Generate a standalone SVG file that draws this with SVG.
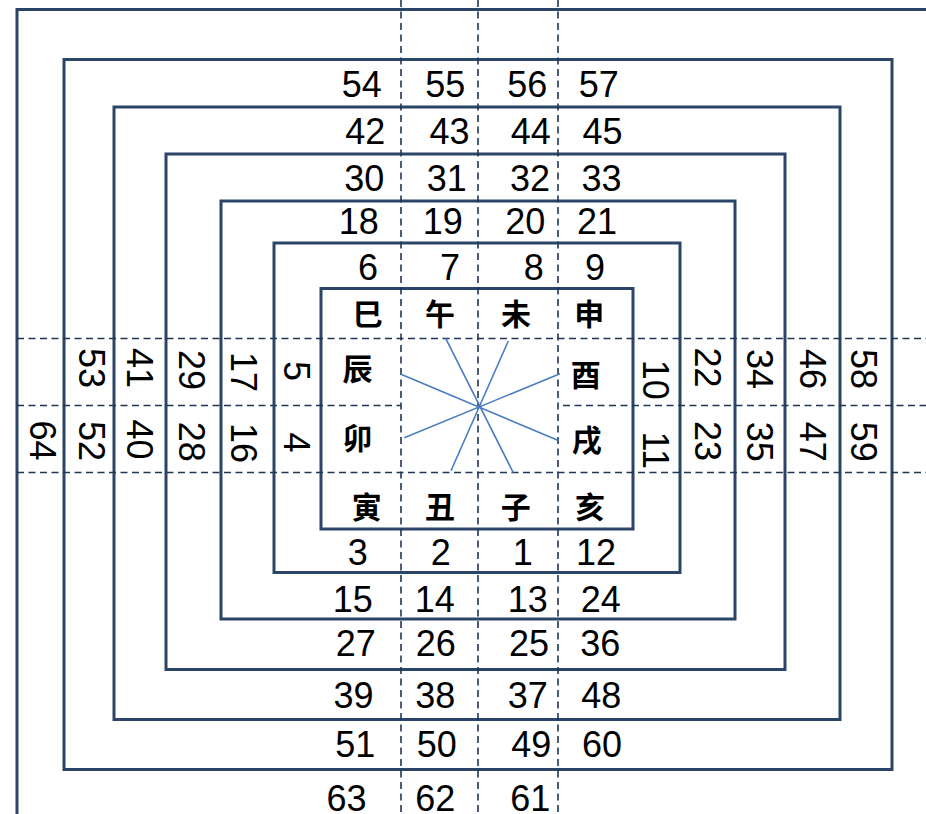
<svg xmlns="http://www.w3.org/2000/svg" width="926" height="814" viewBox="0 0 926 814">
<style>
.frame{fill:none;stroke:#2a4568;stroke-width:3}
.dash{fill:none;stroke:#1f3656;stroke-width:1.6;stroke-dasharray:7 4.5}
.star{stroke:#4a7cc0;stroke-width:1.6}
.n{font-family:"Liberation Sans",Arial,sans-serif;font-size:36px;fill:#000}
.v{text-anchor:middle}
.c{font-family:"Noto Sans CJK SC","Noto Sans CJK TC",sans-serif;font-size:30px;font-weight:700;fill:#000;text-anchor:middle}
</style>
<rect width="926" height="814" fill="#fff"/>
<g id="frames">
<path id="ring8" class="frame" d="M17,814 V9.5 H926"/>
<rect id="ring7" class="frame" x="64" y="59.5" width="828" height="710"/>
<rect id="ring6" class="frame" x="114" y="107" width="726" height="612.5"/>
<rect id="ring5" class="frame" x="166" y="154" width="619" height="515.5"/>
<rect id="ring4" class="frame" x="221" y="201" width="514" height="418"/>
<rect id="ring3" class="frame" x="274" y="243" width="406" height="329.5"/>
<rect id="ring2" class="frame" x="321" y="288.5" width="312" height="240.5"/>
</g>
<g id="connectors">
<line class="dash" x1="401" y1="0" x2="401" y2="814"/>
<line class="dash" x1="478" y1="0" x2="478" y2="814"/>
<line class="dash" x1="558" y1="0" x2="558" y2="814"/>
<line class="dash" x1="17" y1="338.5" x2="926" y2="338.5"/>
<line class="dash" x1="17" y1="405.5" x2="401" y2="405.5"/>
<line class="dash" x1="563" y1="405.5" x2="926" y2="405.5"/>
<line class="dash" x1="17" y1="472.5" x2="926" y2="472.5"/>
<g id="star">
<line class="star" x1="445.7" y1="338.3" x2="513.3" y2="472.7"/>
<line class="star" x1="508.3" y1="341" x2="451" y2="470.7"/>
<line class="star" x1="401" y1="374.3" x2="557.7" y2="440.3"/>
<line class="star" x1="560" y1="373.7" x2="404.3" y2="437.7"/>
</g>
</g>
<g id="branches">
<text class="c" x="367.7" y="324.5">巳</text>
<text class="c" x="440" y="324.5">午</text>
<text class="c" x="516" y="324.5">未</text>
<text class="c" x="589.3" y="324.5">申</text>
<text class="c" x="357.5" y="379.5">辰</text>
<text class="c" x="357.5" y="448.5">卯</text>
<text class="c" x="585.8" y="385.5">酉</text>
<text class="c" x="586.7" y="451">戌</text>
<text class="c" x="366.7" y="518">寅</text>
<text class="c" x="440" y="518">丑</text>
<text class="c" x="515.8" y="518">子</text>
<text class="c" x="590" y="518">亥</text>
</g>
<g id="top-numbers">
<text class="n" x="341.8" y="96.5">54</text>
<text class="n" x="425.2" y="96.5">55</text>
<text class="n" x="507.2" y="96.5">56</text>
<text class="n" x="578.7" y="96.5">57</text>
<text class="n" x="345.2" y="143.7">42</text>
<text class="n" x="429.5" y="143.7">43</text>
<text class="n" x="510.8" y="143.7">44</text>
<text class="n" x="582.5" y="143.7">45</text>
<text class="n" x="344.2" y="191">30</text>
<text class="n" x="426.8" y="191">31</text>
<text class="n" x="510" y="191">32</text>
<text class="n" x="581.5" y="191">33</text>
<text class="n" x="338.8" y="234">18</text>
<text class="n" x="422.8" y="234">19</text>
<text class="n" x="505.3" y="234">20</text>
<text class="n" x="577" y="234">21</text>
<text class="n" x="358" y="279.5">6</text>
<text class="n" x="440" y="279.5">7</text>
<text class="n" x="523.8" y="279.5">8</text>
<text class="n" x="585" y="279.5">9</text>
</g>
<g id="bottom-numbers">
<text class="n" x="347.8" y="565">3</text>
<text class="n" x="430.7" y="565">2</text>
<text class="n" x="512.8" y="565">1</text>
<text class="n" x="576" y="565">12</text>
<text class="n" x="332.8" y="611.5">15</text>
<text class="n" x="414.8" y="611.5">14</text>
<text class="n" x="507.8" y="611.5">13</text>
<text class="n" x="580.7" y="611.5">24</text>
<text class="n" x="335.7" y="656">27</text>
<text class="n" x="415.7" y="656">26</text>
<text class="n" x="509" y="656">25</text>
<text class="n" x="580.2" y="656">36</text>
<text class="n" x="333.5" y="708">39</text>
<text class="n" x="415.2" y="708">38</text>
<text class="n" x="507.8" y="708">37</text>
<text class="n" x="581.2" y="708">48</text>
<text class="n" x="335.2" y="757">51</text>
<text class="n" x="416.8" y="757">50</text>
<text class="n" x="511.2" y="757">49</text>
<text class="n" x="582" y="757">60</text>
<text class="n" x="326.6" y="810.5">63</text>
<text class="n" x="415.3" y="810.5">62</text>
<text class="n" x="510.3" y="810.5">61</text>
</g>
<g id="left-numbers">
<text class="n v" transform="translate(78.8,368) rotate(90)">53</text>
<text class="n v" transform="translate(126.6,368) rotate(90)">41</text>
<text class="n v" transform="translate(178.8,370) rotate(90)">29</text>
<text class="n v" transform="translate(230.9,372) rotate(90)">17</text>
<text class="n v" transform="translate(284.1,371) rotate(90)">5</text>
<text class="n v" transform="translate(29.6,440.5) rotate(90)">64</text>
<text class="n v" transform="translate(78.8,441) rotate(90)">52</text>
<text class="n v" transform="translate(126.6,439.5) rotate(90)">40</text>
<text class="n v" transform="translate(178.8,441.7) rotate(90)">28</text>
<text class="n v" transform="translate(230.9,443) rotate(90)">16</text>
<text class="n v" transform="translate(284.1,442.5) rotate(90)">4</text>
</g>
<g id="right-numbers">
<text class="n v" transform="translate(642.9,379.8) rotate(90)">10</text>
<text class="n v" transform="translate(695.1,367.5) rotate(90)">22</text>
<text class="n v" transform="translate(747.1,369) rotate(90)">34</text>
<text class="n v" transform="translate(800.1,369) rotate(90)">46</text>
<text class="n v" transform="translate(851.1,369) rotate(90)">58</text>
<text class="n v" transform="translate(642.9,450.3) rotate(90)">11</text>
<text class="n v" transform="translate(695.1,441) rotate(90)">23</text>
<text class="n v" transform="translate(747.1,441.7) rotate(90)">35</text>
<text class="n v" transform="translate(800.1,441.7) rotate(90)">47</text>
<text class="n v" transform="translate(851.1,441.7) rotate(90)">59</text>
</g>
</svg>
